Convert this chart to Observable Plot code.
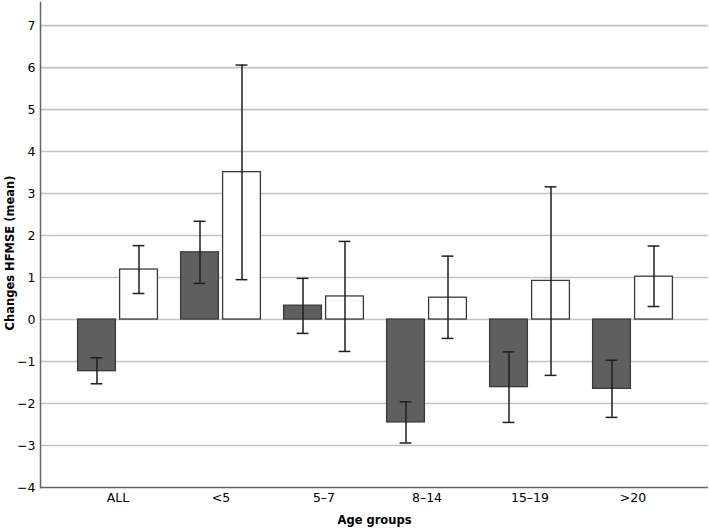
<!DOCTYPE html>
<html>
<head>
<meta charset="utf-8">
<script src="https://cdn.jsdelivr.net/npm/d3@7"></script>
<script src="https://cdn.jsdelivr.net/npm/@observablehq/plot@0.6"></script>
<style>
  html, body { margin: 0; padding: 0; background: #fff; }
</style>
</head>
<body>
<div id="chart"></div>
<script>
const groups = ["ALL", "<5", "5–7", "8–14", "15–19", ">20"];
const seriesNames = ["Series 1", "Series 2"];
const meanDark = [-1.23, 1.60, 0.33, -2.45, -1.61, -1.65];
const loDark   = [-1.53, 0.86, -0.33, -2.94, -2.45, -2.33];
const hiDark   = [-0.91, 2.34, 0.98, -1.96, -0.77, -0.97];
const meanLight = [1.19, 3.51, 0.55, 0.52, 0.92, 1.02];
const loLight   = [0.62, 0.95, -0.76, -0.45, -1.33, 0.31];
const hiLight   = [1.76, 6.06, 1.86, 1.51, 3.16, 1.75];
const yTicks = [-4, -3, -2, -1, 0, 1, 2, 3, 4, 5, 6, 7];

const table = [];
groups.forEach((g, i) => {
  table.push({group: g, series: seriesNames[0], mean: meanDark[i], lo: loDark[i], hi: hiDark[i]});
  table.push({group: g, series: seriesNames[1], mean: meanLight[i], lo: loLight[i], hi: hiLight[i]});
});
const isDark = d => d.series === seriesNames[0];
const isLight = d => d.series === seriesNames[1];
const errStyle = {stroke: "#1e1e1e", strokeWidth: 1.5};

const chart = Plot.plot({
  width: 709,
  height: 528,
  marginLeft: 40,
  marginRight: 1,
  marginTop: 2,
  marginBottom: 41,
  style: {fontFamily: "DejaVu Sans, sans-serif", fontSize: "12.5px", background: "#fff", color: "#000"},
  x: {domain: groups, paddingInner: 0, paddingOuter: 0.2364, align: 0.52, label: null},
  y: {domain: [-4, 7.55]},
  color: {domain: seriesNames, range: ["#5f5f5f", "#ffffff"]},
  marks: [
    Plot.gridY(yTicks.slice(1), {stroke: "#c4c4c4", strokeOpacity: 1, strokeWidth: 1.6}),
    Plot.axisY(yTicks, {tickSize: 0, tickPadding: 5, fontSize: 12.5, label: null}),
    Plot.axisX({tickSize: 0, tickPadding: 6, fontSize: 12.5, label: null}),
    Plot.barY(table, {filter: isDark, x: "group", y: "mean", fill: "series", stroke: "#3a3a3a", strokeWidth: 1.3, insetLeft: 11.6, insetRight: 53.6}),
    Plot.barY(table, {filter: isLight, x: "group", y: "mean", fill: "series", stroke: "#3a3a3a", strokeWidth: 1.3, insetLeft: 53.6, insetRight: 11.6}),
    Plot.ruleX(table, {filter: isDark, x: "group", y1: "lo", y2: "hi", dx: -21, ...errStyle}),
    Plot.ruleX(table, {filter: isLight, x: "group", y1: "lo", y2: "hi", dx: 21, ...errStyle}),
    Plot.tickY(table, {filter: isDark, x: "group", y: "lo", insetLeft: 24.6, insetRight: 66.6, ...errStyle}),
    Plot.tickY(table, {filter: isDark, x: "group", y: "hi", insetLeft: 24.6, insetRight: 66.6, ...errStyle}),
    Plot.tickY(table, {filter: isLight, x: "group", y: "lo", insetLeft: 66.6, insetRight: 24.6, ...errStyle}),
    Plot.tickY(table, {filter: isLight, x: "group", y: "hi", insetLeft: 66.6, insetRight: 24.6, ...errStyle}),
    Plot.ruleY([-4], {stroke: "#666", strokeWidth: 1.5}),
    Plot.frame({anchor: "left", stroke: "#666", strokeWidth: 1.5}),
    Plot.text(["Changes HFMSE (mean)"], {frameAnchor: "left", textAnchor: "middle", dx: -30, dy: 8, rotate: -90, fontWeight: "bold", fontSize: 11.5, fill: "#000"}),
    Plot.text(["Age groups"], {frameAnchor: "bottom", textAnchor: "middle", dy: 36, fontWeight: "bold", fontSize: 11.5, fill: "#000"})
  ]
});
document.getElementById("chart").appendChild(chart);
</script>
</body>
</html>
